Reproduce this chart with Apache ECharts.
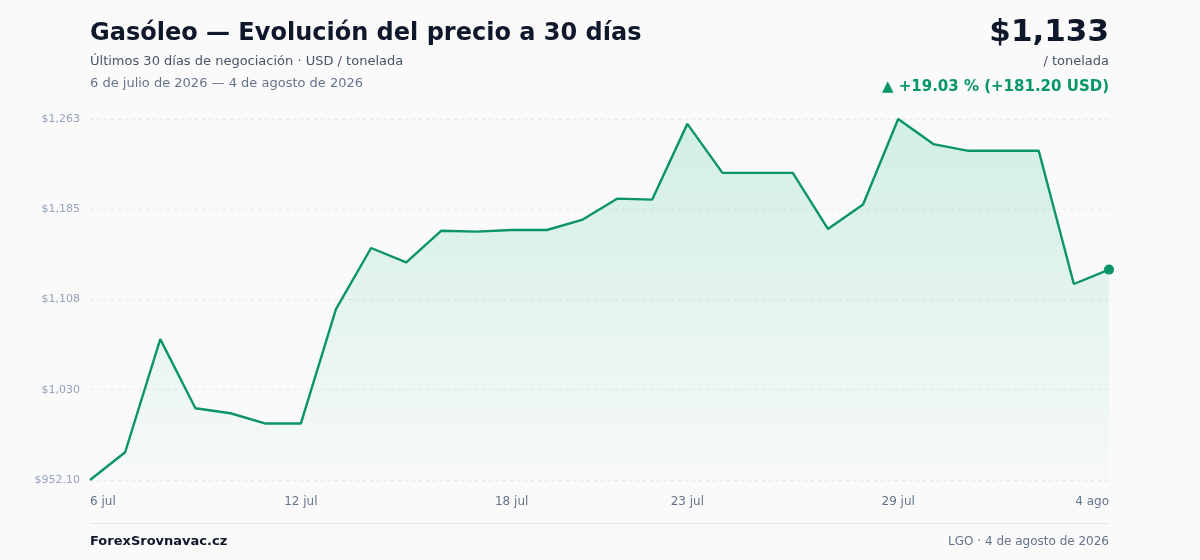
<!DOCTYPE html>
<html>
<head>
<meta charset="utf-8">
<script src="https://cdn.jsdelivr.net/npm/echarts@6/dist/echarts.min.js"></script>
<style>
  html, body { margin: 0; padding: 0; background: #fafafa; }
  #chart { width: 1200px; height: 560px; }
</style>
</head>
<body>
<div id="chart"></div>
<script>
// Dates (6 jul - 4 ago 2026)
var dates = [
    '6 jul', '7 jul', '8 jul', '9 jul', '10 jul', '11 jul', '12 jul', '13 jul', '14 jul', '15 jul',
    '16 jul', '17 jul', '18 jul', '19 jul', '20 jul', '21 jul', '22 jul', '23 jul', '24 jul', '25 jul',
    '26 jul', '27 jul', '28 jul', '29 jul', '30 jul', '31 jul', '1 ago', '2 ago', '3 ago', '4 ago'
];
// Price, USD / tonelada
var prices = [
    952.10, 976.0, 1073.4, 1013.9, 1009.6, 1000.7, 1000.7, 1099.3, 1151.9, 1139.5,
    1166.8, 1166.0, 1167.4, 1167.4, 1176.1, 1194.4, 1193.6, 1258.8, 1216.6, 1216.6,
    1216.6, 1168.3, 1189.3, 1263.0, 1241.4, 1235.6, 1235.6, 1235.6, 1120.9, 1133.3
];
// Indices of the dates shown on the x axis
var labelIdx = [0, 6, 12, 17, 23, 29];

var yMin = 952.10;
var yMax = 1263.0;

var font = '"DejaVu Sans", "Noto Sans", sans-serif';
var myChart = echarts.init(document.getElementById('chart'));

var last = prices.length - 1;
var change = prices[last] - prices[0];
var pct = change / prices[0] * 100;

var option = {
    backgroundColor: '#fafafa',
    textStyle: { fontFamily: font },
    animation: false,
    grid: { left: 90, right: 91, top: 119, bottom: 80, containLabel: false },
    xAxis: {
        type: 'category',
        data: dates,
        boundaryGap: false,
        axisLine: { show: false },
        axisTick: { show: false },
        splitLine: { show: false },
        axisLabel: {
            interval: function (i) { return labelIdx.indexOf(i) >= 0; },
            color: '#64748b',
            fontSize: 12,
            margin: 16,
            alignMinLabel: 'left',
            alignMaxLabel: 'right'
        }
    },
    yAxis: {
        type: 'value',
        min: yMin,
        max: yMax,
        interval: (yMax - yMin) / 4,
        axisLine: { show: false },
        axisTick: { show: false },
        axisLabel: {
            color: '#94a3b8',
            fontSize: 11,
            margin: 10,
            formatter: function (v) {
                if (Math.abs(v - yMin) < 0.01) return '$' + yMin.toFixed(2);
                return '$' + Math.round(v).toLocaleString('en-US');
            }
        },
        splitLine: {
            lineStyle: { color: '#e5e7eb', type: [3, 4], width: 1 }
        }
    },
    series: [{
        type: 'line',
        data: prices,
        symbol: 'none',
        lineStyle: { color: '#0b9466', width: 2.4 },
        areaStyle: {
            color: new echarts.graphic.LinearGradient(0, 0, 0, 1, [
                { offset: 0, color: 'rgba(16,185,129,0.25)' },
                { offset: 1, color: 'rgba(16,185,129,0.02)' }
            ])
        },
        markPoint: {
            symbol: 'circle',
            symbolSize: 10,
            itemStyle: { color: '#0b9466' },
            label: { show: false },
            data: [{ coord: [last, prices[last]] }]
        }
    }],
    graphic: [
        { type: 'text', left: 90, top: 22, style: { text: 'Gasóleo — Evolución del precio a 30 días', font: 'bold 24px ' + font, fill: '#0f172a' } },
        { type: 'text', left: 90, top: 55, style: { text: 'Últimos 30 días de negociación · USD / tonelada', font: '13px ' + font, fill: '#475569' } },
        { type: 'text', left: 90, top: 77, style: { text: '6 de julio de 2026 — 4 de agosto de 2026', font: '13px ' + font, fill: '#64748b' } },
        { type: 'text', right: 91, top: 17, style: { text: '$' + Math.round(prices[last]).toLocaleString('en-US'), font: 'bold 31px ' + font, fill: '#0f172a' } },
        { type: 'text', right: 91, top: 55, style: { text: '/ tonelada', font: '13px ' + font, fill: '#475569' } },
        { type: 'text', right: 91, top: 80, style: { text: '▲ +' + pct.toFixed(2) + ' % (+' + change.toFixed(2) + ' USD)', font: 'bold 15px ' + font, fill: '#059669' } },
        { type: 'rect', shape: { x: 90, y: 523, width: 1019, height: 1 }, style: { fill: '#e5e7eb' } },
        { type: 'text', left: 90, top: 535, style: { text: 'ForexSrovnavac.cz', font: 'bold 13px ' + font, fill: '#0f172a' } },
        { type: 'text', right: 91, top: 536, style: { text: 'LGO · 4 de agosto de 2026', font: '12px ' + font, fill: '#64748b' } }
    ]
};
option && myChart.setOption(option);
window.onresize = function () {
    myChart.resize();
};
</script>
</body>
</html>
